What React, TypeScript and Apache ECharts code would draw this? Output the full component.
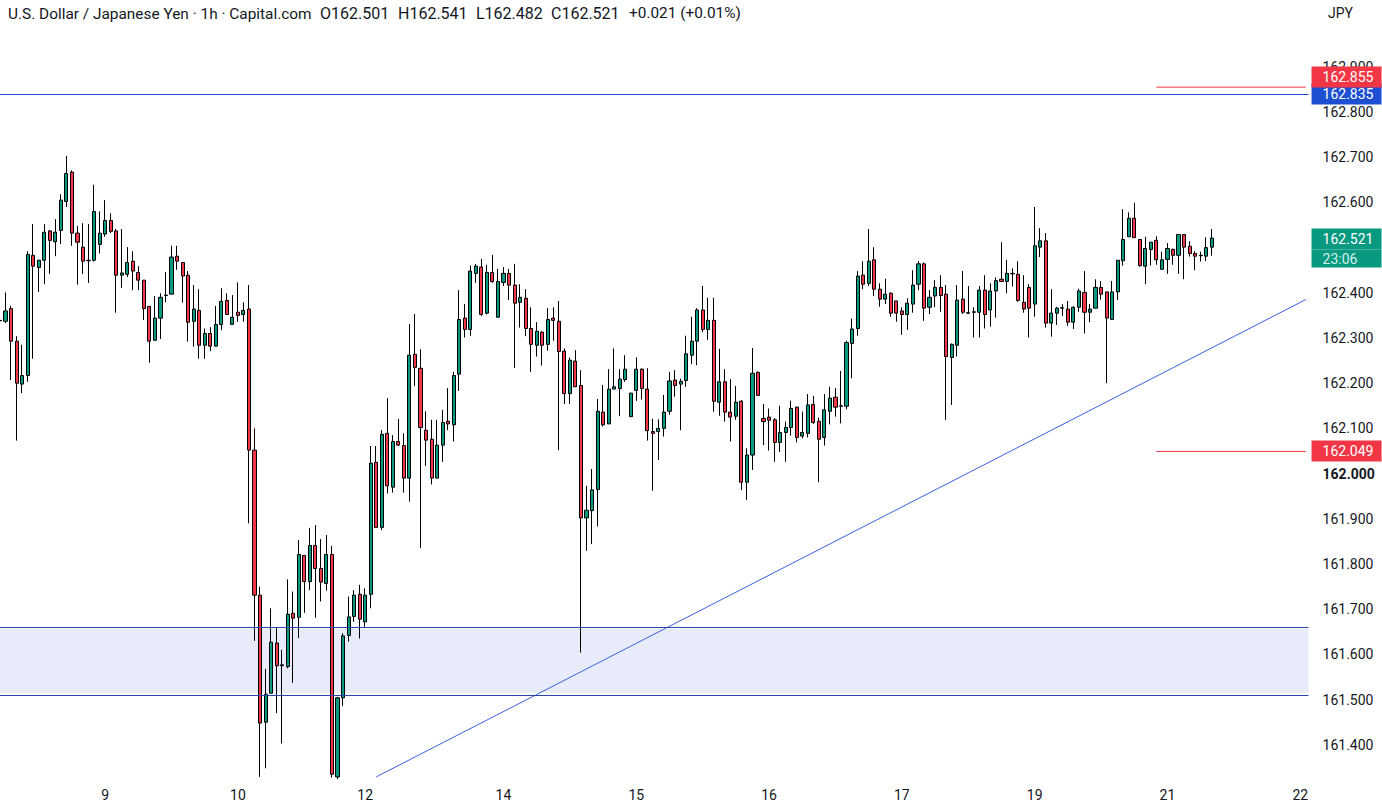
import React, { useEffect, useRef } from "react";
import * as echarts from "echarts";

// ---- data (USD/JPY, 1h candles) ----
const opens = [
  162.338, 162.337, 162.365, 162.293, 162.198, 162.217, 162.483, 162.456, 162.472, 162.537,
  162.513, 162.538, 162.602, 162.667, 162.532, 162.501, 162.472, 162.472, 162.507, 162.530,
  162.560, 162.537, 162.439, 162.441, 162.470, 162.445, 162.428, 162.370, 162.295, 162.344,
  162.394, 162.397, 162.481, 162.467, 162.439, 162.337, 162.361, 162.284, 162.310, 162.282,
  162.330, 162.383, 162.330, 162.357, 162.352, 162.364, 162.052, 161.731, 161.450, 161.514,
  161.625, 161.575, 161.573, 161.691, 161.682, 161.819, 161.761, 161.841, 161.790, 161.757,
  161.821, 161.329, 161.504, 161.642, 161.684, 161.733, 161.672, 161.733, 162.025, 161.881,
  162.089, 161.970, 162.071, 162.062, 161.990, 162.264, 162.233, 162.096, 162.076, 161.990,
  162.063, 162.116, 162.108, 162.220, 162.344, 162.319, 162.443, 162.457, 162.355, 162.445,
  162.346, 162.423, 162.443, 162.417, 162.379, 162.388, 162.321, 162.284, 162.313, 162.286,
  162.344, 162.337, 162.271, 162.177, 162.249, 162.195, 161.902, 161.918, 161.965, 162.136,
  162.110, 162.187, 162.188, 162.208, 162.126, 162.184, 162.231, 162.187, 162.093, 162.093,
  162.100, 162.138, 162.207, 162.198, 162.206, 162.262, 162.293, 162.362, 162.319, 162.339,
  162.158, 162.203, 162.136, 162.127, 162.160, 161.981, 162.041, 162.224, 162.122, 162.125,
  162.119, 162.069, 162.091, 162.102, 162.147, 162.083, 162.089, 162.153, 162.116, 162.080,
  162.138, 162.169, 162.149, 162.149, 162.288, 162.321, 162.439, 162.421, 162.473, 162.408,
  162.386, 162.399, 162.382, 162.360, 162.352, 162.375, 162.419, 162.464, 162.368, 162.393,
  162.412, 162.397, 162.257, 162.284, 162.386, 162.355, 162.357, 162.357, 162.406, 162.362,
  162.404, 162.430, 162.425, 162.442, 162.441, 162.379, 162.412, 162.375, 162.501, 162.515,
  162.333, 162.355, 162.366, 162.364, 162.335, 162.368, 162.401, 162.357, 162.366, 162.412,
  162.402, 162.341, 162.402, 162.471, 162.524, 162.565, 162.518, 162.459, 162.496, 162.516,
  162.452, 162.474, 162.496, 162.483, 162.529, 162.503, 162.487, 162.482, 162.481, 162.501,
];
const highs = [
  162.349, 162.401, 162.371, 162.304, 162.285, 162.492, 162.552, 162.473, 162.552, 162.539,
  162.563, 162.618, 162.703, 162.671, 162.548, 162.554, 162.552, 162.639, 162.580, 162.605,
  162.576, 162.541, 162.541, 162.501, 162.492, 162.459, 162.428, 162.370, 162.393, 162.399,
  162.446, 162.504, 162.504, 162.467, 162.448, 162.417, 162.408, 162.321, 162.324, 162.371,
  162.410, 162.399, 162.395, 162.423, 162.379, 162.417, 162.100, 161.750, 161.568, 161.702,
  161.658, 161.610, 161.766, 161.739, 161.853, 161.819, 161.880, 161.886, 161.855, 161.864,
  161.840, 161.506, 161.647, 161.728, 161.742, 161.754, 161.746, 162.061, 162.061, 162.096,
  162.167, 162.085, 162.121, 162.089, 162.331, 162.353, 162.275, 162.138, 162.119, 162.119,
  162.141, 162.189, 162.225, 162.406, 162.375, 162.460, 162.464, 162.475, 162.462, 162.484,
  162.453, 162.457, 162.453, 162.464, 162.419, 162.408, 162.368, 162.335, 162.315, 162.366,
  162.368, 162.382, 162.277, 162.257, 162.273, 162.229, 161.973, 162.010, 162.165, 162.196,
  162.231, 162.277, 162.231, 162.262, 162.179, 162.257, 162.233, 162.233, 162.121, 162.120,
  162.174, 162.225, 162.229, 162.210, 162.305, 162.347, 162.366, 162.415, 162.389, 162.389,
  162.276, 162.231, 162.209, 162.194, 162.163, 162.056, 162.278, 162.226, 162.154, 162.144,
  162.123, 162.150, 162.115, 162.161, 162.148, 162.137, 162.176, 162.172, 162.124, 162.176,
  162.192, 162.189, 162.227, 162.294, 162.343, 162.448, 162.470, 162.541, 162.501, 162.421,
  162.431, 162.401, 162.382, 162.368, 162.388, 162.450, 162.470, 162.467, 162.406, 162.428,
  162.439, 162.417, 162.288, 162.417, 162.448, 162.415, 162.368, 162.415, 162.439, 162.421,
  162.434, 162.512, 162.473, 162.454, 162.470, 162.439, 162.419, 162.590, 162.543, 162.532,
  162.408, 162.369, 162.375, 162.382, 162.370, 162.409, 162.448, 162.375, 162.430, 162.426,
  162.402, 162.426, 162.472, 162.585, 162.578, 162.599, 162.518, 162.524, 162.512, 162.525,
  162.491, 162.510, 162.498, 162.529, 162.529, 162.514, 162.492, 162.491, 162.523, 162.541,
];
const lows = [
  162.288, 162.333, 162.207, 162.073, 162.178, 162.203, 162.254, 162.402, 162.419, 162.442,
  162.481, 162.508, 162.590, 162.504, 162.418, 162.442, 162.422, 162.469, 162.487, 162.524,
  162.532, 162.356, 162.411, 162.435, 162.406, 162.406, 162.340, 162.245, 162.295, 162.298,
  162.379, 162.397, 162.451, 162.378, 162.292, 162.281, 162.254, 162.254, 162.271, 162.282,
  162.318, 162.351, 162.330, 162.336, 162.336, 161.890, 161.630, 161.329, 161.348, 161.514,
  161.470, 161.403, 161.569, 161.537, 161.636, 161.692, 161.742, 161.681, 161.717, 161.741,
  161.327, 161.324, 161.486, 161.628, 161.672, 161.635, 161.661, 161.702, 161.881, 161.875,
  161.956, 161.958, 162.061, 161.958, 161.938, 162.194, 161.835, 162.017, 161.976, 161.990,
  162.026, 162.096, 162.071, 162.183, 162.301, 162.305, 162.422, 162.349, 162.352, 162.422,
  162.346, 162.415, 162.384, 162.234, 162.323, 162.304, 162.225, 162.259, 162.239, 162.272,
  162.294, 162.052, 162.154, 162.154, 162.192, 161.604, 161.829, 161.844, 161.883, 162.104,
  162.110, 162.187, 162.127, 162.203, 162.126, 162.161, 162.164, 162.073, 161.962, 162.030,
  162.082, 162.130, 162.170, 162.096, 162.192, 162.242, 162.240, 162.313, 162.296, 162.137,
  162.128, 162.115, 162.071, 162.119, 161.964, 161.942, 162.008, 162.173, 162.063, 162.051,
  162.026, 162.048, 162.026, 162.084, 162.069, 162.078, 162.080, 162.110, 161.981, 162.062,
  162.109, 162.126, 162.111, 162.142, 162.211, 162.305, 162.408, 162.415, 162.393, 162.369,
  162.375, 162.347, 162.336, 162.307, 162.318, 162.356, 162.406, 162.338, 162.353, 162.368,
  162.358, 162.119, 162.152, 162.259, 162.353, 162.353, 162.301, 162.301, 162.321, 162.325,
  162.345, 162.425, 162.399, 162.414, 162.380, 162.356, 162.301, 162.347, 162.479, 162.323,
  162.303, 162.329, 162.349, 162.327, 162.320, 162.358, 162.310, 162.335, 162.366, 162.385,
  162.200, 162.341, 162.384, 162.460, 162.524, 162.522, 162.458, 162.419, 162.460, 162.462,
  162.452, 162.442, 162.462, 162.442, 162.430, 162.480, 162.450, 162.469, 162.470, 162.482,
];
const closes = [
  162.339, 162.360, 162.293, 162.200, 162.217, 162.485, 162.459, 162.472, 162.534, 162.516,
  162.534, 162.605, 162.664, 162.532, 162.512, 162.470, 162.471, 162.580, 162.532, 162.560,
  162.536, 162.439, 162.444, 162.467, 162.448, 162.428, 162.365, 162.293, 162.344, 162.390,
  162.395, 162.479, 162.470, 162.437, 162.335, 162.364, 162.284, 162.310, 162.282, 162.330,
  162.381, 162.352, 162.346, 162.350, 162.361, 162.052, 161.731, 161.448, 161.512, 161.627,
  161.575, 161.577, 161.689, 161.680, 161.821, 161.761, 161.841, 161.790, 161.760, 161.821,
  161.335, 161.504, 161.641, 161.683, 161.731, 161.678, 161.731, 162.023, 161.881, 162.087,
  161.973, 162.071, 162.063, 161.990, 162.262, 162.235, 162.102, 162.074, 161.990, 162.063,
  162.113, 162.110, 162.217, 162.341, 162.319, 162.448, 162.459, 162.352, 162.445, 162.425,
  162.425, 162.443, 162.417, 162.377, 162.390, 162.321, 162.286, 162.315, 162.284, 162.341,
  162.339, 162.270, 162.177, 162.251, 162.192, 161.902, 161.919, 161.964, 162.138, 162.108,
  162.187, 162.192, 162.209, 162.231, 162.178, 162.231, 162.188, 162.095, 162.089, 162.100,
  162.136, 162.205, 162.195, 162.204, 162.265, 162.293, 162.362, 162.319, 162.339, 162.160,
  162.203, 162.136, 162.125, 162.158, 161.981, 162.041, 162.222, 162.173, 162.115, 162.118,
  162.069, 162.091, 162.102, 162.144, 162.080, 162.091, 162.152, 162.113, 162.076, 162.141,
  162.167, 162.147, 162.150, 162.290, 162.320, 162.437, 162.419, 162.470, 162.408, 162.386,
  162.397, 162.355, 162.355, 162.352, 162.377, 162.417, 162.464, 162.366, 162.390, 162.412,
  162.394, 162.259, 162.286, 162.384, 162.357, 162.356, 162.358, 162.406, 162.352, 162.404,
  162.427, 162.425, 162.443, 162.443, 162.383, 162.364, 162.366, 162.504, 162.515, 162.333,
  162.355, 162.366, 162.367, 162.335, 162.368, 162.404, 162.357, 162.364, 162.412, 162.397,
  162.344, 162.402, 162.472, 162.518, 162.565, 162.522, 162.460, 162.498, 162.512, 162.473,
  162.473, 162.498, 162.483, 162.529, 162.501, 162.487, 162.481, 162.483, 162.500, 162.521,
];

const dayLabels = ["9", "10", "12", "14", "15", "16", "17", "19", "21", "22"];
const dayLabelIndex = [19, 43, 66, 91, 115, 139, 163, 187, 211, 235];
// 162.500 sits under the live-price box in the original, so it is not listed
const priceTicks = [
  161.4, 161.5, 161.6, 161.7, 161.8, 161.9, 162.0, 162.1, 162.2, 162.3, 162.4,
  162.6, 162.7, 162.8, 162.9,
];
const CATEGORY_COUNT = 237; // candles plus empty right margin

const levelResistance = 162.835;
const levelRedHigh = 162.855;
const levelRedLow = 162.049;
const zoneTop = 161.656;
const zoneBottom = 161.515;
const trendStart = [68, 161.329];
const trendEnd = [236, 162.385];
const shortLineStart = 209;
const countdown = "23:06";
const headerTitle = "U.S. Dollar / Japanese Yen · 1h · Capital.com";
const currency = "JPY";

const FONT = "Roboto, 'Noto Sans', sans-serif";
const TEXT = "#131722";
const UP = "#089981";
const DOWN = "#F23645";
const BLUE = "#1c4fd2";
const ZONE_EDGE = "#2845b0";

export default function App() {
  const ref = useRef<HTMLDivElement>(null);

  useEffect(() => {
    if (!ref.current) return;
    const chart = echarts.init(ref.current, null, { renderer: "svg" });

    const last = closes.length - 1;
    const lastPrice = closes[last];
    const change = closes[last] - closes[last - 1];
    const changePct = (change / closes[last - 1]) * 100;
    const categories = Array.from({ length: CATEGORY_COUNT }, (_, i) => String(i));
    const labelMap: Record<number, string> = {};
    dayLabelIndex.forEach((idx, k) => (labelMap[idx] = dayLabels[k]));
    const data = opens.map((o, i) => [o, closes[i], lows[i], highs[i]]);
    const lastIdx = CATEGORY_COUNT - 1;

    const boxStyle = (bg: string) => ({
      backgroundColor: bg,
      color: "#ffffff",
      fontSize: 14,
      fontFamily: FONT,
      width: 55,
      height: 21,
      lineHeight: 21,
      padding: [0, 4, 0, 11],
      align: "left",
    });

    const hidden = { color: "rgba(0,0,0,0)", width: 1, type: "solid" };
    const headerStyle = (text: string, size: number) => ({
      text,
      fill: TEXT,
      fontSize: size,
      fontFamily: FONT,
    });

    const levelSeries = (name: string, points: number[][], color: string) => ({
      name,
      type: "line",
      data: points,
      silent: true,
      showSymbol: false,
      symbol: "none",
      clip: true,
      z: 3,
      lineStyle: { color, width: 1, type: "solid" },
      emphasis: { disabled: true },
    });

    const option: any = {
      animation: false,
      backgroundColor: "#ffffff",
      grid: {
        left: -2.77,
        right: 73.45,
        top: 0,
        bottom: 28,
        containLabel: false,
        outerBoundsMode: "none",
      },
      xAxis: {
        type: "category",
        data: categories,
        boundaryGap: true,
        axisLine: { show: false },
        axisTick: { show: false },
        splitLine: { show: false },
        axisLabel: {
          interval: 0,
          color: TEXT,
          fontSize: 14,
          fontFamily: FONT,
          margin: 8,
          formatter: (_v: string, idx: number) => labelMap[idx] ?? "",
        },
      },
      yAxis: {
        type: "value",
        position: "right",
        scale: true,
        min: 161.3221,
        max: 163.0478,
        axisLine: { show: false },
        axisTick: { show: false },
        splitLine: { show: false },
        axisLabel: {
          customValues: priceTicks,
          color: TEXT,
          fontSize: 14,
          fontFamily: FONT,
          margin: 14,
          formatter: (v: number) =>
            Math.abs(v - 162) < 1e-9 ? `{b|${v.toFixed(3)}}` : v.toFixed(3),
          rich: { b: { fontWeight: "bold", fontSize: 14, fontFamily: FONT, color: TEXT } },
        },
      },
      graphic: [
        { type: "text", left: 8, top: 6, style: headerStyle(headerTitle, 15.4) },
        { type: "text", left: 320, top: 5, style: headerStyle(`O${opens[last].toFixed(3)}`, 16) },
        { type: "text", left: 398, top: 5, style: headerStyle(`H${highs[last].toFixed(3)}`, 16) },
        { type: "text", left: 476, top: 5, style: headerStyle(`L${lows[last].toFixed(3)}`, 16) },
        { type: "text", left: 551, top: 5, style: headerStyle(`C${closes[last].toFixed(3)}`, 16) },
        {
          type: "text",
          left: 629,
          top: 5,
          style: headerStyle(
            `${change >= 0 ? "+" : ""}${change.toFixed(3)} (${changePct >= 0 ? "+" : ""}${changePct.toFixed(2)}%)`,
            15.4
          ),
        },
        { type: "text", left: 1328, top: 6, style: headerStyle(currency, 14) },
      ],
      series: [
        {
          type: "candlestick",
          data,
          barWidth: 3.6,
          clip: true,
          z: 2,
          itemStyle: {
            color: UP,
            color0: DOWN,
            borderColor: "#000000",
            borderColor0: "#000000",
            borderWidth: 1,
          },
          markArea: {
            silent: true,
            itemStyle: { color: "rgba(30,60,200,0.1)" },
            data: [[{ yAxis: zoneTop }, { yAxis: zoneBottom }]],
          },
          markLine: {
            silent: true,
            symbol: ["none", "none"],
            label: { show: false },
            data: [
              // zone edges
              { yAxis: zoneTop, lineStyle: { color: ZONE_EDGE, width: 1, type: "solid" } },
              { yAxis: zoneBottom, lineStyle: { color: ZONE_EDGE, width: 1, type: "solid" } },
              // resistance line
              {
                yAxis: levelResistance,
                lineStyle: { color: BLUE, width: 1, type: "solid" },
                label: {
                  show: true,
                  position: "end",
                  distance: 3,
                  formatter: `{b|${levelResistance.toFixed(3)}}`,
                  rich: { b: boxStyle(BLUE) },
                },
              },
              // price boxes
              {
                yAxis: levelRedHigh,
                lineStyle: hidden,
                label: {
                  show: true,
                  position: "end",
                  distance: 3,
                  formatter: `{b|${levelRedHigh.toFixed(3)}}\n{s| }`,
                  rich: { b: boxStyle(DOWN), s: { height: 25, lineHeight: 25, fontSize: 1 } },
                },
              },
              {
                yAxis: levelRedLow,
                lineStyle: hidden,
                label: {
                  show: true,
                  position: "end",
                  distance: 3,
                  formatter: `{b|${levelRedLow.toFixed(3)}}`,
                  rich: { b: boxStyle(DOWN) },
                },
              },
              {
                yAxis: lastPrice,
                lineStyle: hidden,
                label: {
                  show: true,
                  position: "end",
                  distance: 3,
                  formatter: `{s| }\n{p|${lastPrice.toFixed(3)}}\n{t|${countdown}}`,
                  rich: {
                    s: { height: 19, lineHeight: 19, fontSize: 1 },
                    p: boxStyle(UP),
                    t: { ...boxStyle(UP), color: "#d3efe9", height: 18, lineHeight: 18 },
                  },
                },
              },
            ],
          },
        },
        levelSeries("trend", [trendStart, trendEnd], "#3a63e0"),
        levelSeries("redHigh", [[shortLineStart, levelRedHigh], [lastIdx, levelRedHigh]], DOWN),
        levelSeries("redLow", [[shortLineStart, levelRedLow], [lastIdx, levelRedLow]], DOWN),
      ],
    };

    chart.setOption(option);
    return () => chart.dispose();
  }, []);

  return (
    <div
      ref={ref}
      style={{ position: "absolute", left: 0, top: 0, width: 1382, height: 808, background: "#fff" }}
    />
  );
}
